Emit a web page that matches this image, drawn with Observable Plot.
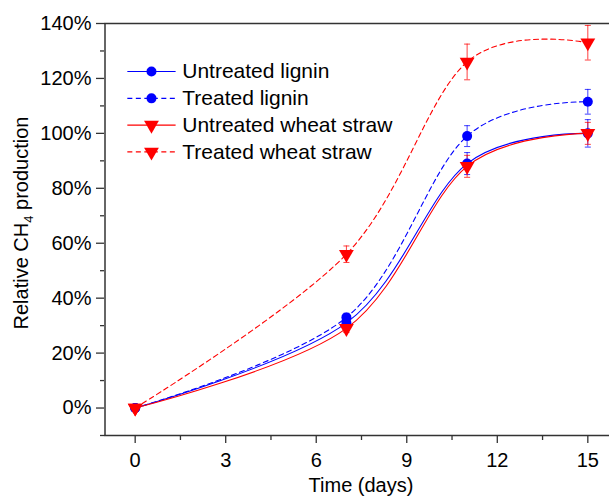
<!DOCTYPE html>
<html><head><meta charset="utf-8">
<script src="https://cdn.jsdelivr.net/npm/d3@7"></script>
<script src="https://cdn.jsdelivr.net/npm/@observablehq/plot@0.6"></script>
<style>body{margin:0;background:#fff} svg{display:block}</style>
</head><body><div id="chart"></div>
<script>
// ---- data ----
const days = [0, 7, 11, 15];
const seriesNames = ["Untreated lignin", "Treated lignin", "Untreated wheat straw", "Treated wheat straw"];
const untreatedLignin = [0, 31, 89, 100];
const treatedLignin = [0, 33, 99, 111.5];
const untreatedStraw = [0, 29, 88, 100];
const treatedStraw = [0, 56, 126, 133];
const untreatedLigninErr = [0.5, 1.5, 4, 5];
const treatedLigninErr = [0.5, 1.5, 3.8, 4.5];
const untreatedStrawErr = [0.5, 1.5, 4, 4];
const treatedStrawErr = [0.5, 3, 6.5, 6.3];
const xTicks = [0, 3, 6, 9, 12, 15];
const xMinorTicks = [1.5, 4.5, 7.5, 10.5, 13.5];
const yTicks = [0, 20, 40, 60, 80, 100, 120, 140];
const yMinorTicks = [-10, 10, 30, 50, 70, 90, 110, 130];

// ---- build table ----
const values = [untreatedLignin, treatedLignin, untreatedStraw, treatedStraw];
const errs = [untreatedLigninErr, treatedLigninErr, untreatedStrawErr, treatedStrawErr];
const style = {
  "Untreated lignin": {color: "#0000ff", dash: null, symbol: "circle", rotate: 0},
  "Treated lignin": {color: "#0000ff", dash: "5,3.5", symbol: "circle", rotate: 0},
  "Untreated wheat straw": {color: "#ff0000", dash: null, symbol: "triangle", rotate: 180},
  "Treated wheat straw": {color: "#ff0000", dash: "5,3.5", symbol: "triangle", rotate: 180}
};
const rows = [];
seriesNames.forEach((s, i) => days.forEach((d, j) => rows.push({series: s, day: d, value: values[i][j], err: errs[i][j]})));

// legend layout (in data units)
const legend = seriesNames.map((s, i) => ({series: s, y: 122.5 - i * 9.75}));
const lgX0 = -0.26, lgX1 = 1.34, lgXm = 0.54, lgXt = 1.56;
const capHalf = 0.1;
const font = "'Liberation Sans', Arial, sans-serif";

const marks = [];
for (const s of seriesNames) {
  const st = style[s];
  const data = rows.filter(r => r.series === s);
  marks.push(Plot.line(data, {x: "day", y: "value", curve: "catmull-rom", tension: 0, stroke: st.color, strokeWidth: 1.1, strokeDasharray: st.dash}));
}
for (const s of seriesNames) {
  const st = style[s];
  const data = rows.filter(r => r.series === s && r.day > 0);
  marks.push(Plot.ruleX(data, {x: "day", y1: d => d.value - d.err, y2: d => d.value + d.err, stroke: st.color, strokeOpacity: 0.75, strokeWidth: 1}));
  marks.push(Plot.link(data, {x1: d => d.day - capHalf, x2: d => d.day + capHalf, y1: d => d.value - d.err, y2: d => d.value - d.err, stroke: st.color, strokeOpacity: 0.75, strokeWidth: 1}));
  marks.push(Plot.link(data, {x1: d => d.day - capHalf, x2: d => d.day + capHalf, y1: d => d.value + d.err, y2: d => d.value + d.err, stroke: st.color, strokeOpacity: 0.75, strokeWidth: 1}));
}
for (const s of seriesNames) {
  const st = style[s];
  const data = rows.filter(r => r.series === s);
  marks.push(Plot.dot(data, {x: "day", y: "value", symbol: st.symbol, rotate: st.rotate, r: st.symbol === "circle" ? 5 : 5.5, fill: st.color, stroke: "none"}));
}
// legend
for (const l of legend) {
  const st = style[l.series];
  marks.push(Plot.link([l], {x1: lgX0, x2: lgX1, y1: "y", y2: "y", stroke: st.color, strokeWidth: 1.1, strokeDasharray: st.dash}));
  marks.push(Plot.dot([l], {x: lgXm, y: "y", symbol: st.symbol, rotate: st.rotate, r: st.symbol === "circle" ? 5 : 5.5, fill: st.color, stroke: "none"}));
  marks.push(Plot.text([l], {x: lgXt, y: "y", text: "series", textAnchor: "start", fontSize: 21, fill: "#000"}));
}
// frame
marks.push(Plot.ruleY([-10, 140], {stroke: "#333", strokeWidth: 1.5}));
marks.push(Plot.ruleX([-1, 16], {stroke: "#333", strokeWidth: 1.5}));
// axes
marks.push(Plot.axisY({ticks: yTicks, tickSize: 8, tickPadding: 5, tickFormat: d => d + "%", fontSize: 20, label: null, stroke: "#333", strokeWidth: 1.3, fill: "#000"}));
marks.push(Plot.axisY({ticks: yMinorTicks, tickSize: 4, tickFormat: () => "", label: null, stroke: "#333", strokeWidth: 1.3}));
marks.push(Plot.axisX({ticks: xTicks, tickSize: 8, tickPadding: 9, tickFormat: d => String(d), fontSize: 20, label: null, stroke: "#333", strokeWidth: 1.3, fill: "#000"}));
marks.push(Plot.axisX({ticks: xMinorTicks, tickSize: 5, tickFormat: () => "", label: null, stroke: "#333", strokeWidth: 1.3}));

const plot = Plot.plot({
  width: 609, height: 496,
  marginLeft: 104, marginTop: 23, marginBottom: 61, marginRight: 0,
  x: {domain: [-1, 16], range: [104.5, 617.5]},
  y: {domain: [-10, 140]},
  style: {fontFamily: font, background: "#fff", color: "#000"},
  marks
});
document.getElementById("chart").appendChild(plot);

// axis titles (with subscript)
const svg = d3.select(plot);
svg.append("text")
  .attr("x", 361).attr("y", 492)
  .attr("text-anchor", "middle")
  .attr("font-family", font).attr("font-size", 20).attr("fill", "#000")
  .text("Time (days)");
const yt = svg.append("text")
  .attr("transform", "translate(28,223) rotate(-90)")
  .attr("text-anchor", "middle")
  .attr("font-family", font).attr("font-size", 20).attr("fill", "#000");
yt.append("tspan").text("Relative CH");
yt.append("tspan").attr("font-size", 13).attr("dy", 5).text("4");
yt.append("tspan").attr("dy", -5).text(" production");
</script>
</body></html>
